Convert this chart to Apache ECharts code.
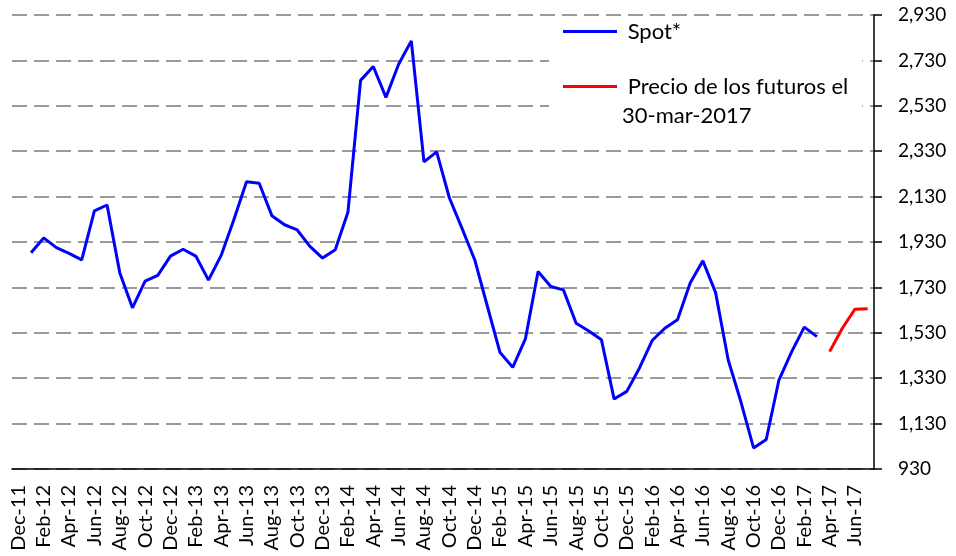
<!DOCTYPE html>
<html>
<head>
<meta charset="utf-8">
<script src="https://cdn.jsdelivr.net/npm/echarts@6/dist/echarts.min.js"></script>
<style>
html,body{margin:0;padding:0;background:#fff;}
#chart{width:956px;height:556px;}
</style>
</head>
<body>
<div id="chart"></div>
<script>
const months = ['Jan','Feb','Mar','Apr','May','Jun','Jul','Aug','Sep','Oct','Nov','Dec'];
const categories = ['Dec-11'];
for (let y = 12; y <= 17; y++) {
  for (let m = 0; m < 12; m++) {
    if (y === 17 && m > 6) break;
    categories.push(months[m] + '-' + y);
  }
}
const spotName = 'Spot*';
const futName = ' Precio de los futuros el\n30-mar-2017';
// Jan-12 .. Mar-17
const spotValues = [
  1883, 1948, 1905, 1880, 1851, 2067, 2093, 1795, 1640, 1758, 1783, 1868,
  1898, 1868, 1762, 1871, 2028, 2195, 2189, 2046, 2006, 1983, 1911, 1859,
  1896, 2061, 2642, 2703, 2567, 2713, 2816, 2283, 2327, 2125, 1990, 1852,
  1647, 1443, 1378, 1503, 1800, 1734, 1719, 1572, 1538, 1499, 1238, 1272,
  1375, 1496, 1550, 1587, 1749, 1847, 1708, 1410, 1226, 1023, 1060, 1322,
  1446, 1555, 1513
];
// Apr-17 .. Jul-17
const futuresValues = [1447, 1550, 1634, 1636];
const yTicks = {min: 930, max: 2930, step: 200};

const spotData = [null].concat(spotValues);
while (spotData.length < categories.length) spotData.push(null);
const futData = [];
for (let i = 0; i < categories.length - futuresValues.length; i++) futData.push(null);
futuresValues.forEach(v => futData.push(v));

const FONT = 'Lato';
const chart = echarts.init(document.getElementById('chart'));
chart.setOption({
  animation: false,
  backgroundColor: '#fff',
  grid: {left: 12, right: 82, top: 15, bottom: 87},
  legend: {
    orient: 'vertical',
    left: 549, top: 17,
    padding: [3, 14, 8, 14],
    backgroundColor: '#fff',
    icon: 'rect',
    itemWidth: 54, itemHeight: 3,
    itemGap: 0,
    formatter: name => name === futName ? '\n' + name : ' ' + name,
    textStyle: {fontFamily: FONT, fontSize: 22, color: '#000', lineHeight: 23},
    data: [
      {name: spotName},
      {name: futName, textStyle: {lineHeight: 29}}
    ]
  },
  xAxis: {
    type: 'category',
    data: categories,
    boundaryGap: true,
    axisLine: {lineStyle: {color: '#000', width: 1.5}},
    axisTick: {interval: 1, length: 7, lineStyle: {color: '#000', width: 1.5}},
    axisLabel: {interval: 1, rotate: 90, margin: 16, fontFamily: FONT, fontSize: 20, color: '#000'},
    splitLine: {show: false}
  },
  yAxis: {
    type: 'value',
    position: 'right',
    min: yTicks.min, max: yTicks.max, interval: yTicks.step,
    axisLine: {show: true, lineStyle: {color: '#000', width: 1.5}},
    axisTick: {show: true, inside: false, length: 8, lineStyle: {color: '#000', width: 1.5}},
    axisLabel: {margin: 24, fontFamily: FONT, fontSize: 19, color: '#000',
      formatter: v => v.toLocaleString('en-US')},
    splitLine: {show: true, lineStyle: {color: '#9a9a9a', width: 2, type: [15, 7]}}
  },
  series: [
    {name: spotName, type: 'line', data: spotData, symbol: 'none', connectNulls: false,
      lineStyle: {color: '#0000ff', width: 3}, itemStyle: {color: '#0000ff'}},
    {name: futName, type: 'line', data: futData, symbol: 'none', connectNulls: false,
      lineStyle: {color: '#ff0000', width: 3}, itemStyle: {color: '#ff0000'}}
  ]
});
</script>
</body>
</html>
